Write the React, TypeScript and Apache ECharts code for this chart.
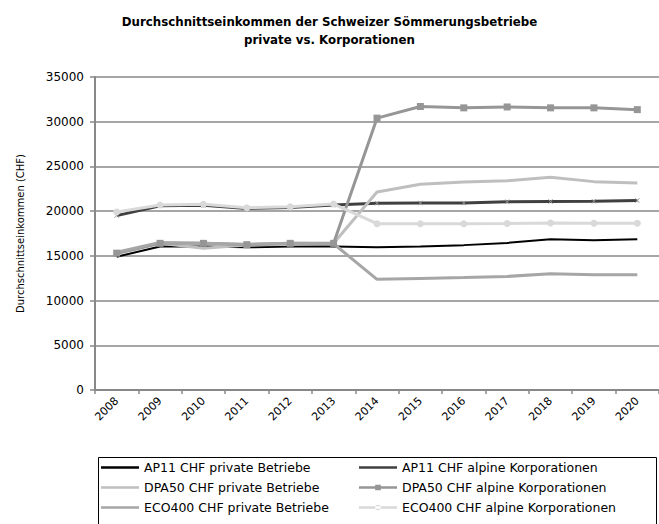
import React, { useEffect, useRef } from "react";
import * as echarts from "echarts";

const years = ["2008","2009","2010","2011","2012","2013","2014","2015","2016","2017","2018","2019","2020"];
const yTicks = [0, 5000, 10000, 15000, 20000, 25000, 30000, 35000];
const ap11Private = [14900,16050,16050,15950,16050,16050,15950,16050,16200,16450,16850,16750,16850];
const ap11Alpine = [19500,20600,20650,20300,20400,20700,20880,20900,20920,21050,21080,21100,21200];
const dpa50Private = [15300,16400,15850,16200,16300,16400,22150,23000,23250,23400,23780,23300,23150];
const dpa50Alpine = [15300,16400,16400,16250,16400,16400,30400,31700,31550,31650,31550,31550,31350];
const eco400Private = [15400,16500,16400,16300,16400,16350,12380,12480,12580,12700,13000,12900,12900];
const eco400Alpine = [19900,20680,20760,20380,20480,20790,18600,18600,18600,18620,18680,18650,18650];

const names = [
  "AP11 CHF private Betriebe",
  "AP11 CHF alpine Korporationen",
  "DPA50 CHF private Betriebe",
  "DPA50 CHF alpine Korporationen",
  "ECO400 CHF private Betriebe",
  "ECO400 CHF alpine Korporationen",
];
const colors = ["#000000", "#404040", "#bfbfbf", "#969696", "#a6a6a6", "#d9d9d9"];

const FONT = "'DejaVu Sans', sans-serif";

// legend icon paths (box 40 x 12, with tiny anchors at the corners to fix the bounds)
const BOUNDS = "M0,0L0.01,0L0.01,0.01Z M39.99,11.99L40,11.99L40,12Z ";
const LINE = "M0,4.8L40,4.8L40,7.2L0,7.2Z ";
const iconLine = "path://" + BOUNDS + LINE;
const iconSquare = "path://" + BOUNDS + LINE + "M17,3L23,3L23,9L17,9Z";
const iconCircle = "path://" + BOUNDS + LINE + "M17,6A3,3 0 1,0 23,6A3,3 0 1,0 17,6Z";
const crossSymbol = "path://M0,1L1,0L5,4L9,0L10,1L6,5L10,9L9,10L5,6L1,10L0,9L4,5Z";

export default function App() {
  const ref = useRef<HTMLDivElement>(null);
  useEffect(() => {
    if (!ref.current) return;
    const chart = echarts.init(ref.current, null, { renderer: "svg" });
    const mk = (i: number, data: number[], symbol: string, size: number, width: number, symColor?: string) => ({
      name: names[i],
      type: "line",
      data,
      symbol,
      symbolSize: size,
      showSymbol: symbol !== "none",
      lineStyle: { color: colors[i], width },
      itemStyle: { color: symColor || colors[i] },
      emphasis: { disabled: true },
    });
    const legendCommon = {
      orient: "vertical",
      top: 461,
      padding: 0,
      itemWidth: 38,
      itemHeight: 12,
      itemGap: 7,
      textStyle: { fontFamily: FONT, fontSize: 12.5, color: "#000" },
      selectedMode: false,
    };
    const li = (i: number, icon: string) => ({ name: names[i], icon, itemStyle: { color: colors[i] } });
    chart.setOption({
      animation: false,
      backgroundColor: "#fff",
      title: {
        text: "Durchschnittseinkommen der Schweizer Sömmerungsbetriebe\nprivate vs. Korporationen",
        left: "center",
        top: 8,
        textStyle: { fontFamily: FONT, fontSize: 11.8, fontWeight: "bold", color: "#000", lineHeight: 18 },
      },
      grid: { left: 95, top: 77, right: -4, bottom: 134 },
      xAxis: {
        type: "category",
        data: years,
        boundaryGap: true,
        axisLine: { lineStyle: { color: "#888", width: 2 } },
        axisTick: { show: true, length: 4, lineStyle: { color: "#888", width: 1.5 } },
        axisLabel: { rotate: 45, fontFamily: FONT, fontSize: 11, color: "#000", margin: 9, interval: 0 },
      },
      yAxis: {
        type: "value",
        min: yTicks[0],
        max: yTicks[yTicks.length - 1],
        interval: yTicks[1] - yTicks[0],
        name: "Durchschnittseinkommen (CHF)",
        nameLocation: "middle",
        nameGap: 70,
        nameTextStyle: { fontFamily: FONT, fontSize: 10, color: "#000" },
        axisLine: { show: true, lineStyle: { color: "#888", width: 2 } },
        axisTick: { show: true, length: 5, lineStyle: { color: "#888", width: 1.5 } },
        axisLabel: { fontFamily: FONT, fontSize: 12, color: "#000", margin: 11, formatter: (v: number) => String(v) },
        splitLine: { lineStyle: { color: "#888", width: 1.5 } },
      },
      legend: [
        {
          ...legendCommon,
          left: 101,
          data: [li(0, iconLine), li(2, iconLine), li(4, iconLine)],
        },
        {
          ...legendCommon,
          left: 359,
          data: [li(1, iconLine), li(3, iconSquare), li(5, iconCircle)],
        },
      ],
      graphic: [
        {
          type: "rect",
          shape: { x: 98.5, y: 457.5, width: 558, height: 80 },
          style: { fill: "none", stroke: "#000", lineWidth: 1 },
          silent: true,
        },
      ],
      series: [
        mk(0, ap11Private, "none", 0, 2),
        mk(1, ap11Alpine, crossSymbol, 5, 3, "#999999"),
        mk(2, dpa50Private, "none", 0, 3),
        mk(3, dpa50Alpine, "rect", 7, 3),
        mk(4, eco400Private, "none", 0, 3),
        mk(5, eco400Alpine, "circle", 7, 3),
      ],
    });
    return () => chart.dispose();
  }, []);
  return <div ref={ref} style={{ width: 659, height: 524, position: "absolute", left: 0, top: 0 }} />;
}
